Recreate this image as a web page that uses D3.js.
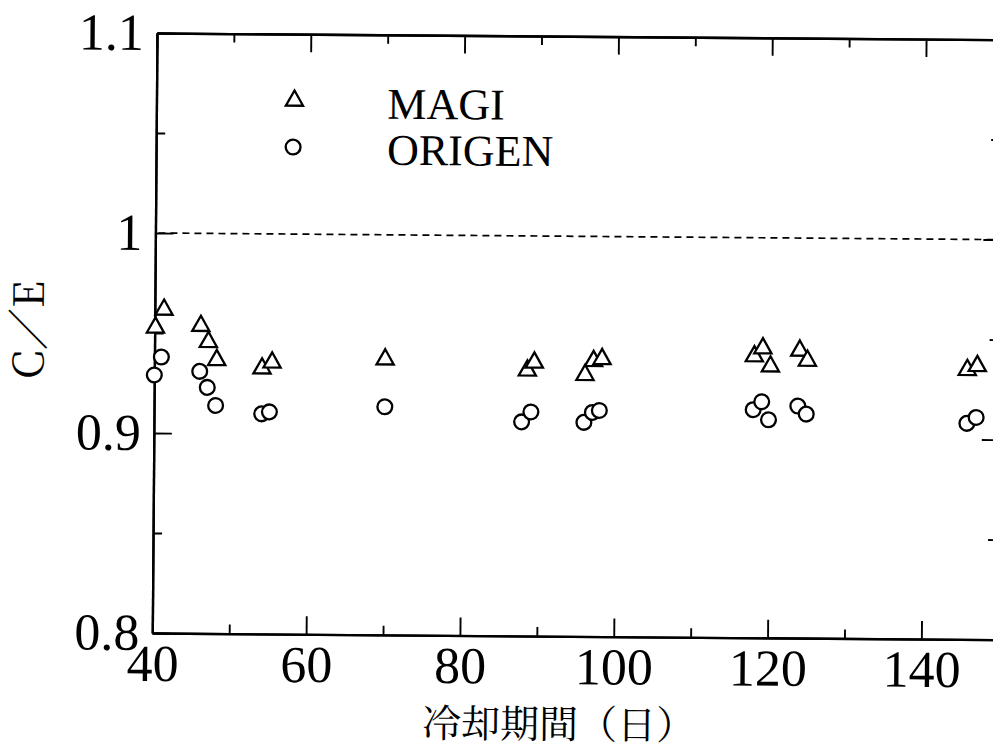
<!DOCTYPE html>
<html>
<head>
<meta charset="utf-8">
<script src="https://cdn.jsdelivr.net/npm/d3@7"></script>
<style>
  body { margin: 0; background: #fff; }
  svg { display: block; }
</style>
</head>
<body>
<div id="chart"></div>
<script>
var width = 993;
var height = 751;

// cooling days vs C/E
var magiDays = [40.1, 41.2, 46.0, 47.0, 48.1, 54.0, 55.3, 70.0, 88.5, 89.4,
                96.0, 97.1, 98.2, 118.0, 119.1, 120.1, 123.9, 124.9, 145.7, 147.0];
var magiCE   = [0.954, 0.963, 0.955, 0.947, 0.938, 0.934, 0.937, 0.939, 0.934, 0.938,
                0.932, 0.939, 0.940, 0.942, 0.946, 0.937, 0.945, 0.940, 0.936, 0.938];
var origenDays = [40.0, 40.9, 45.9, 46.9, 48.0, 54.0, 55.0, 70.0, 87.8, 89.0,
                  95.9, 97.0, 97.9, 117.9, 119.0, 119.9, 123.7, 124.8, 145.7, 146.9];
var origenCE   = [0.929, 0.938, 0.931, 0.923, 0.914, 0.910, 0.911, 0.914, 0.907, 0.912,
                  0.907, 0.912, 0.913, 0.914, 0.918, 0.909, 0.916, 0.912, 0.908, 0.911];

var xTicks = [40, 60, 80, 100, 120, 140];
var xMinorTicks = [50, 70, 90, 110, 130];
var yTicks = [0.8, 0.9, 1.0, 1.1];
var yTickLabels = ["0.8", "0.9", "1", "1.1"];
var yMinorTicks = [0.85, 0.95, 1.05];
var seriesNames = ["MAGI", "ORIGEN"];
var xTitle = "冷却期間（日）";
var yTitle = "C／E";

var latinFont = "'Liberation Serif'";
var cjkFont = "'Noto Serif CJK JP'";

var x = d3.scaleLinear().domain([40, 150]).range([157, 1003]);
var y = d3.scaleLinear().domain([0.8, 1.1]).range([633, 33]);

var svg = d3.select("#chart").append("svg")
    .attr("width", width)
    .attr("height", height);

svg.append("rect").attr("width", width).attr("height", height).attr("fill", "#fff");

// the scan is slightly rotated clockwise
var g = svg.append("g")
    .attr("transform", "rotate(0.45," + x(40) + "," + y(1.1) + ")");

function styleAxis(sel, labels) {
    sel.attr("font-family", null).attr("font-size", null);
    sel.select(".domain").attr("stroke", "#000").attr("stroke-width", 2.3);
    sel.selectAll(".tick line").attr("stroke", "#000").attr("stroke-width", 1.9);
    sel.selectAll(".tick text")
        .attr("fill", "#000")
        .style("font-family", latinFont)
        .style("font-size", "52px");
    if (!labels) sel.selectAll(".tick text").remove();
}

// bottom
g.append("g").attr("transform", "translate(0," + y(0.8) + ")")
    .call(d3.axisBottom(x).tickValues(xMinorTicks).tickSize(-9).tickSizeOuter(0).tickFormat(""))
    .call(styleAxis, false);
g.append("g").attr("transform", "translate(0," + y(0.8) + ")")
    .call(d3.axisBottom(x).tickValues(xTicks).tickSize(-18).tickSizeOuter(0)
        .tickPadding(11).tickFormat(d3.format("d")))
    .call(styleAxis, true);

// top
g.append("g").attr("transform", "translate(0," + y(1.1) + ")")
    .call(d3.axisTop(x).tickValues(xMinorTicks).tickSize(-9).tickSizeOuter(0).tickFormat(""))
    .call(styleAxis, false);
g.append("g").attr("transform", "translate(0," + y(1.1) + ")")
    .call(d3.axisTop(x).tickValues(xTicks).tickSize(-18).tickSizeOuter(0).tickFormat(""))
    .call(styleAxis, false);

// left
g.append("g").attr("transform", "translate(" + x(40) + ",0)")
    .call(d3.axisLeft(y).tickValues(yMinorTicks).tickSize(-9).tickSizeOuter(0).tickFormat(""))
    .call(styleAxis, false);
g.append("g").attr("transform", "translate(" + x(40) + ",0)")
    .call(d3.axisLeft(y).tickValues(yTicks).tickSize(-18).tickSizeOuter(0)
        .tickPadding(13).tickFormat(function(d, i) { return yTickLabels[i]; }))
    .call(styleAxis, true);

// right
g.append("g").attr("transform", "translate(" + x(150) + ",0)")
    .call(d3.axisRight(y).tickValues(yMinorTicks).tickSize(-11).tickSizeOuter(0).tickFormat(""))
    .call(styleAxis, false);
g.append("g").attr("transform", "translate(" + x(150) + ",0)")
    .call(d3.axisRight(y).tickValues(yTicks).tickSize(-18).tickSizeOuter(0).tickFormat(""))
    .call(styleAxis, false);

// reference line C/E = 1
g.append("line")
    .attr("x1", x(40) + 3).attr("x2", x(150))
    .attr("y1", y(1.0)).attr("y2", y(1.0))
    .attr("stroke", "#000")
    .attr("stroke-width", 1.7)
    .attr("stroke-dasharray", "7,5");

var triPath = "M0,-7.6L8.6,7.6L-8.6,7.6Z";

var magi = magiDays.map(function(d, i) { return {x: d, y: magiCE[i]}; });
var origen = origenDays.map(function(d, i) { return {x: d, y: origenCE[i]}; });

g.append("g").selectAll("path")
    .data(magi)
    .enter().append("path")
        .attr("d", triPath)
        .attr("transform", function(d) { return "translate(" + x(d.x) + "," + y(d.y) + ")"; })
        .attr("fill", "#fff")
        .attr("stroke", "#000")
        .attr("stroke-width", 2.3);

g.append("g").selectAll("circle")
    .data(origen)
    .enter().append("circle")
        .attr("cx", function(d) { return x(d.x); })
        .attr("cy", function(d) { return y(d.y); })
        .attr("r", 7.4)
        .attr("fill", "#fff")
        .attr("stroke", "#000")
        .attr("stroke-width", 2.3);

// legend
var legend = g.append("g");
legend.append("path")
    .attr("d", triPath)
    .attr("transform", "translate(295,97)")
    .attr("fill", "#fff").attr("stroke", "#000").attr("stroke-width", 2.3);
legend.append("circle")
    .attr("cx", 294).attr("cy", 146).attr("r", 7.4)
    .attr("fill", "#fff").attr("stroke", "#000").attr("stroke-width", 2.3);
legend.selectAll("text")
    .data(seriesNames)
    .enter().append("text")
        .attr("x", 388)
        .attr("y", function(d, i) { return 117 + i * 46; })
        .style("font-family", latinFont)
        .style("font-size", "44px")
        .attr("fill", "#000")
        .text(function(d) { return d; });

// axis titles
g.append("text")
    .attr("transform", "translate(46,331) rotate(-90)")
    .attr("text-anchor", "middle")
    .style("font-family", cjkFont)
    .style("font-size", "42px")
    .attr("fill", "#000")
    .text(yTitle);

g.append("text")
    .attr("x", 564)
    .attr("y", 735)
    .attr("text-anchor", "middle")
    .style("font-family", cjkFont)
    .style("font-size", "39px")
    .attr("fill", "#000")
    .text(xTitle);
</script>
</body>
</html>
